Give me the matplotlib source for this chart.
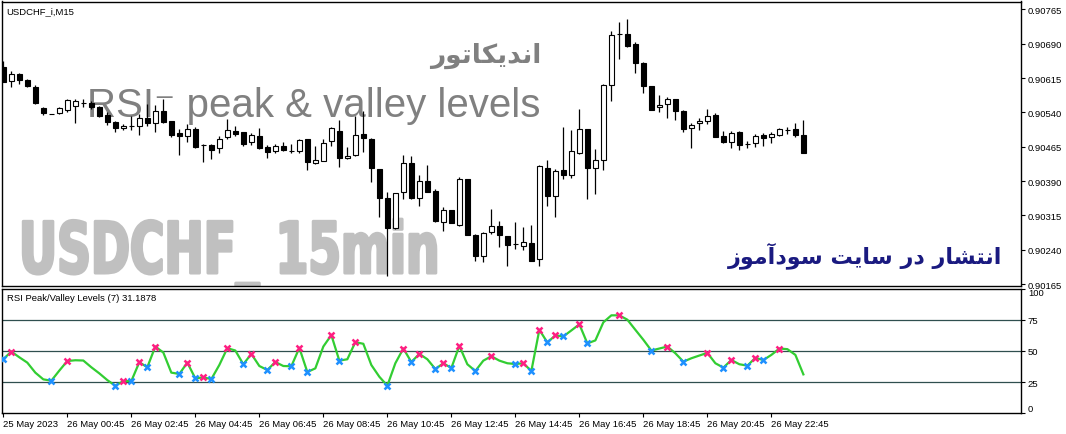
import matplotlib
matplotlib.use("Agg")
import matplotlib.pyplot as plt
from matplotlib.patheffects import AbstractPathEffect
from matplotlib.transforms import Affine2D

# 15 minute candles, 25 May 22:45 .. 26 May 23:45
opens = [0.90639, 0.90608, 0.90624, 0.90611, 0.90595, 0.90549, 0.90536, 0.90538, 0.90545, 0.90554,
         0.90560, 0.90560, 0.90552, 0.90534, 0.90519, 0.90506, 0.90510, 0.90510, 0.90528, 0.90517,
         0.90543, 0.90521, 0.90495, 0.90488, 0.90504, 0.90469, 0.90469, 0.90462, 0.90486, 0.90499,
         0.90497, 0.90475, 0.90488, 0.90464, 0.90455, 0.90466, 0.90455, 0.90455, 0.90482, 0.90429,
         0.90434, 0.90477, 0.90499, 0.90440, 0.90447, 0.90493, 0.90482, 0.90416, 0.90353, 0.90287,
         0.90366, 0.90429, 0.90353, 0.90390, 0.90368, 0.90300, 0.90327, 0.90294, 0.90394, 0.90272,
         0.90226, 0.90279, 0.90292, 0.90270, 0.90252, 0.90248, 0.90255, 0.90220, 0.90418, 0.90357,
         0.90414, 0.90403, 0.90451, 0.90504, 0.90418, 0.90436, 0.90600, 0.90711, 0.90711, 0.90689,
         0.90648, 0.90597, 0.90552, 0.90558, 0.90569, 0.90543, 0.90506, 0.90517, 0.90521, 0.90534,
         0.90488, 0.90475, 0.90497, 0.90471, 0.90473, 0.90490, 0.90486, 0.90490, 0.90501, 0.90504,
         0.90490]
highs = [0.90652, 0.90630, 0.90626, 0.90613, 0.90600, 0.90552, 0.90536, 0.90552, 0.90569, 0.90569,
         0.90569, 0.90565, 0.90554, 0.90541, 0.90521, 0.90514, 0.90532, 0.90536, 0.90558, 0.90556,
         0.90569, 0.90521, 0.90504, 0.90514, 0.90508, 0.90471, 0.90471, 0.90488, 0.90525, 0.90510,
         0.90497, 0.90495, 0.90506, 0.90469, 0.90471, 0.90475, 0.90471, 0.90482, 0.90482, 0.90466,
         0.90482, 0.90508, 0.90523, 0.90464, 0.90532, 0.90543, 0.90484, 0.90416, 0.90366, 0.90364,
         0.90447, 0.90445, 0.90403, 0.90425, 0.90372, 0.90333, 0.90327, 0.90399, 0.90394, 0.90274,
         0.90279, 0.90329, 0.90303, 0.90270, 0.90300, 0.90290, 0.90294, 0.90425, 0.90436, 0.90416,
         0.90508, 0.90501, 0.90547, 0.90504, 0.90460, 0.90602, 0.90718, 0.90737, 0.90744, 0.90694,
         0.90650, 0.90597, 0.90578, 0.90573, 0.90569, 0.90545, 0.90517, 0.90528, 0.90547, 0.90538,
         0.90499, 0.90499, 0.90499, 0.90477, 0.90493, 0.90495, 0.90497, 0.90506, 0.90508, 0.90517,
         0.90523]
lows = [0.90606, 0.90595, 0.90602, 0.90595, 0.90558, 0.90534, 0.90536, 0.90536, 0.90541, 0.90517,
        0.90552, 0.90547, 0.90530, 0.90512, 0.90497, 0.90501, 0.90501, 0.90490, 0.90510, 0.90497,
        0.90517, 0.90486, 0.90447, 0.90475, 0.90462, 0.90431, 0.90438, 0.90451, 0.90482, 0.90488,
        0.90466, 0.90469, 0.90460, 0.90440, 0.90451, 0.90455, 0.90451, 0.90451, 0.90414, 0.90427,
        0.90434, 0.90466, 0.90421, 0.90438, 0.90445, 0.90453, 0.90388, 0.90311, 0.90183, 0.90285,
        0.90351, 0.90351, 0.90335, 0.90366, 0.90300, 0.90281, 0.90298, 0.90292, 0.90272, 0.90215,
        0.90213, 0.90274, 0.90246, 0.90204, 0.90242, 0.90239, 0.90215, 0.90204, 0.90335, 0.90311,
        0.90394, 0.90397, 0.90449, 0.90351, 0.90362, 0.90414, 0.90565, 0.90656, 0.90683, 0.90626,
        0.90582, 0.90545, 0.90541, 0.90528, 0.90523, 0.90497, 0.90462, 0.90501, 0.90514, 0.90486,
        0.90473, 0.90462, 0.90458, 0.90462, 0.90464, 0.90466, 0.90473, 0.90488, 0.90493, 0.90486,
        0.90451]
closes = [0.90606, 0.90624, 0.90611, 0.90597, 0.90560, 0.90538, 0.90536, 0.90549, 0.90567, 0.90565,
          0.90560, 0.90552, 0.90532, 0.90519, 0.90506, 0.90510, 0.90510, 0.90528, 0.90517, 0.90543,
          0.90519, 0.90490, 0.90488, 0.90504, 0.90464, 0.90469, 0.90458, 0.90482, 0.90501, 0.90493,
          0.90471, 0.90490, 0.90462, 0.90453, 0.90466, 0.90458, 0.90455, 0.90479, 0.90431, 0.90436,
          0.90473, 0.90506, 0.90440, 0.90445, 0.90490, 0.90484, 0.90418, 0.90353, 0.90287, 0.90364,
          0.90429, 0.90353, 0.90390, 0.90366, 0.90303, 0.90327, 0.90298, 0.90394, 0.90272, 0.90226,
          0.90276, 0.90292, 0.90272, 0.90250, 0.90252, 0.90257, 0.90215, 0.90423, 0.90357, 0.90412,
          0.90403, 0.90455, 0.90504, 0.90418, 0.90436, 0.90600, 0.90709, 0.90711, 0.90685, 0.90648,
          0.90597, 0.90545, 0.90556, 0.90569, 0.90543, 0.90504, 0.90512, 0.90521, 0.90532, 0.90486,
          0.90475, 0.90495, 0.90469, 0.90471, 0.90488, 0.90484, 0.90493, 0.90504, 0.90501, 0.90490,
          0.90451]

rsi = [43.3, 49.5, 44.9, 40.6, 32.6, 27.2, 26.1, 34.2, 41.9, 42.5,
       42.3, 36.9, 32.0, 26.6, 22.1, 25.8, 25.8, 40.9, 36.9, 53.5,
       48.7, 32.6, 31.5, 40.6, 28.0, 28.8, 27.4, 38.7, 52.2, 50.3,
       39.3, 47.6, 37.9, 34.7, 41.1, 37.9, 37.7, 52.4, 33.1, 36.0,
       53.5, 62.7, 42.2, 43.3, 57.0, 55.7, 38.7, 29.3, 22.1, 40.1,
       51.9, 41.1, 47.6, 43.3, 35.5, 40.1, 36.3, 54.0, 39.3, 33.9,
       42.2, 45.7, 42.2, 40.1, 39.5, 40.1, 33.9, 66.9, 56.8, 62.4,
       61.6, 66.4, 71.3, 56.0, 58.4, 72.9, 78.5, 78.5, 75.0, 66.9,
       58.9, 50.3, 51.9, 53.5, 48.1, 41.4, 44.1, 46.3, 48.4, 40.1,
       36.6, 42.7, 39.3, 38.2, 44.4, 42.7, 46.8, 51.9, 51.4, 46.8,
       31.19]
peaks = [1, 8, 15, 17, 19, 23, 25, 28, 31, 34, 37, 41, 44, 50, 52, 55, 57, 61, 65, 67,
         69, 72, 77, 83, 88, 91, 94, 97]
valleys = [0, 6, 14, 16, 18, 22, 24, 26, 30, 33, 36, 38, 42, 48, 51, 54, 56, 59, 64, 66,
           68, 70, 73, 81, 85, 90, 93, 95]

time_labels = ["25 May 2023", "26 May 00:45", "26 May 02:45", "26 May 04:45", "26 May 06:45",
               "26 May 08:45", "26 May 10:45", "26 May 12:45", "26 May 14:45", "26 May 16:45",
               "26 May 18:45", "26 May 20:45", "26 May 22:45"]
price_ticks = [0.90165, 0.90240, 0.90315, 0.90390, 0.90465, 0.90540, 0.90615, 0.90690, 0.90765]
rsi_levels = [25, 50, 75]

# quick and dirty persian shaping (presentation forms, visual order)
FORMS = {
    'ا': ('\uFE8D', '\uFE8E', None, None),
    'آ': ('\uFE81', '\uFE82', None, None),
    'د': ('\uFEA9', '\uFEAA', None, None),
    'ر': ('\uFEAD', '\uFEAE', None, None),
    'ز': ('\uFEAF', '\uFEB0', None, None),
    'و': ('\uFEED', '\uFEEE', None, None),
    'ن': ('\uFEE5', '\uFEE6', '\uFEE7', '\uFEE8'),
    'ت': ('\uFE95', '\uFE96', '\uFE97', '\uFE98'),
    'ش': ('\uFEB5', '\uFEB6', '\uFEB7', '\uFEB8'),
    'س': ('\uFEB1', '\uFEB2', '\uFEB3', '\uFEB4'),
    'م': ('\uFEE1', '\uFEE2', '\uFEE3', '\uFEE4'),
    'ی': ('\uFBFC', '\uFBFD', '\uFBFE', '\uFBFF'),
    'ک': ('\uFB8E', '\uFB8F', '\uFB90', '\uFB91'),
}


def fa(s):
    out = []
    for i, ch in enumerate(s):
        if ch not in FORMS:
            out.append(ch)
            continue
        prev = s[i - 1] if i > 0 else ''
        nxt = s[i + 1] if i + 1 < len(s) else ''
        jp = prev in FORMS and FORMS[prev][2] is not None
        jn = nxt in FORMS and FORMS[ch][2] is not None
        iso, fin, ini, med = FORMS[ch]
        if jp and jn:
            out.append(med)
        elif jp:
            out.append(fin)
        elif jn:
            out.append(ini)
        else:
            out.append(iso)
    return ''.join(reversed(out))


class Squeeze(AbstractPathEffect):
    # horizontal squeeze around x0 (display px) + a bit of stroke, stands in for a narrow heavy font
    def __init__(self, sx, x0, lw=0, color=None):
        super().__init__()
        self.sx = sx
        self.x0 = x0
        self.lw = lw
        self.color = color

    def draw_path(self, renderer, gc, tpath, affine, rgbFace=None):
        t = affine + Affine2D().translate(-self.x0, 0).scale(self.sx, 1).translate(self.x0, 0)
        if self.lw:
            gc0 = renderer.new_gc()
            gc0.copy_properties(gc)
            gc0.set_linewidth(self.lw)
            gc0.set_foreground(self.color)
            gc0.set_joinstyle('round')
            renderer.draw_path(gc0, tpath, t, rgbFace)
            gc0.restore()
        else:
            renderer.draw_path(gc, tpath, t, rgbFace)


W, H = 1066, 435
fig = plt.figure(figsize=(W / 100, H / 100), dpi=100)
fig.patch.set_facecolor('white')
ax = fig.add_axes([2 / W, 148 / H, 1019 / W, 284.5 / H])
ax2 = fig.add_axes([2 / W, 20.7 / H, 1019 / W, 124.8 / H], sharex=ax)

n = len(opens)
xs = list(range(n))
ax.vlines(xs, lows, highs, color='black', lw=0.9, zorder=3)
for i in xs:
    o, c = opens[i], closes[i]
    face = 'white' if c >= o else 'black'
    ax.bar(i, c - o, bottom=o, width=0.62, facecolor=face, edgecolor='black',
           lw=0.8, zorder=4)

ax.set_xlim(-0.1625, 127.2)
ax.set_ylim(0.901610, 0.907820)
ax.yaxis.tick_right()
ax.set_yticks(price_ticks)
ax.set_yticklabels(['%.5f' % p for p in price_ticks])
ax.tick_params(axis='y', length=3, width=0.8, labelsize=6.8, pad=2)
ax.tick_params(axis='x', bottom=False, labelbottom=False)
for s in ax.spines.values():
    s.set_linewidth(1.0)

ax.text(0.004, 0.985, 'USDCHF_i,M15', transform=ax.transAxes, ha='left', va='top',
        fontsize=6.8, family='Liberation Sans')

# watermark texts
big = fig.text(19 / W, 1 - 274 / H, 'USDCHF_ 15min', color='#c0c0c0', fontsize=51,
               fontweight='bold', family='DejaVu Sans', ha='left', va='baseline', zorder=1)
big.set_path_effects([Squeeze(0.663, 19, lw=2.2, color='#c0c0c0')])
big.set_clip_box(ax.bbox)
big.set_clip_on(True)
fig.text(87 / W, 1 - 117 / H, 'RSI⁻ peak & valley levels', color='#808080', fontsize=29,
         family=['Liberation Sans', 'DejaVu Sans'], ha='left', va='baseline', zorder=1)
fig.text(541 / W, 1 - 63 / H, fa('اندیکاتور'), color='#808080', fontsize=19,
         fontweight='bold', family='DejaVu Sans', ha='right', va='baseline', zorder=1)
fig.text(1002 / W, 1 - 263 / H, fa('انتشار در سایت سودآموز'), color='#1a1a80', fontsize=16,
         fontweight='bold', family='DejaVu Sans', ha='right', va='baseline', zorder=1)
ax.set_zorder(2)
ax.patch.set_alpha(0)

# indicator window
for lv in rsi_levels:
    ax2.axhline(lv, color='#2f4f4f', lw=0.9, zorder=1)
ax2.plot(xs, rsi, color='#32cd32', lw=1.6, zorder=2)
ax2.plot(peaks, [rsi[i] for i in peaks], ls='none', marker='x', ms=5, mew=1.8,
         color='#ff1e82', zorder=3)
ax2.plot(valleys, [rsi[i] for i in valleys], ls='none', marker='x', ms=5, mew=1.8,
         color='#1e90ff', zorder=3)
ax2.set_ylim(0, 100)
ax2.yaxis.tick_right()
ax2.set_yticks([0, 25, 50, 75, 100])
ax2.tick_params(axis='y', length=3, width=0.8, labelsize=6.8, pad=2)
ylabs = ax2.get_yticklabels()
ylabs[0].set_va('bottom')
ylabs[-1].set_va('top')
ax2.set_xticks(xs[::8])
ax2.set_xticklabels(time_labels, ha='left')
ax2.tick_params(axis='x', length=3, width=0.8, labelsize=6.8, pad=1)
for lab in ax2.get_xticklabels() + ax2.get_yticklabels() + ax.get_yticklabels():
    lab.set_family('Liberation Sans')
for s in ax2.spines.values():
    s.set_linewidth(1.0)
ax2.text(0.005, 0.96, 'RSI Peak/Valley Levels (7) 31.1878', transform=ax2.transAxes,
         ha='left', va='top', fontsize=6.8, family='Liberation Sans')

fig.savefig('out.png', dpi=100)
